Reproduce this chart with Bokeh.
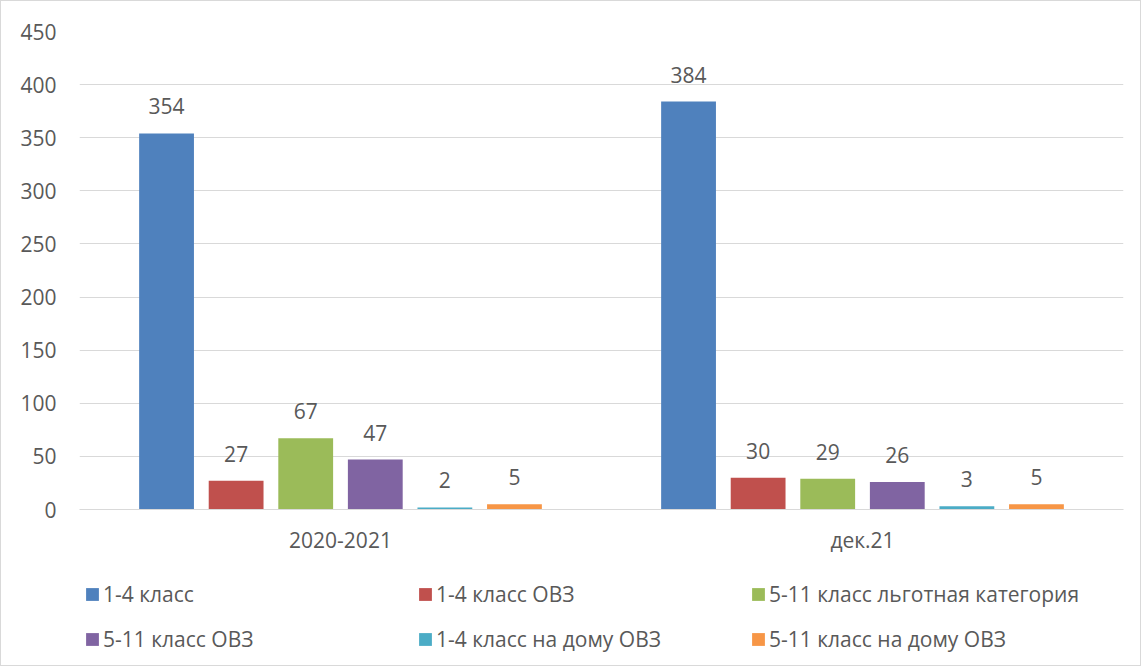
from bokeh.plotting import figure
from bokeh.models import ColumnDataSource, FactorRange, Range1d, Legend, LegendItem, FixedTicker
from bokeh.layouts import column
from bokeh.transform import dodge
from bokeh.core.properties import value
from bokeh.embed import file_html
from bokeh.resources import INLINE

categories = ["2020-2021", "дек.21"]
series_names = ["1-4 класс", "1-4 класс ОВЗ", "5-11 класс льготная категория",
                "5-11 класс ОВЗ", "1-4 класс на дому ОВЗ", "5-11 класс на дому ОВЗ"]
s1 = [354, 384]
s2 = [27, 30]
s3 = [67, 29]
s4 = [47, 26]
s5 = [2, 3]
s6 = [5, 5]
series_values = [s1, s2, s3, s4, s5, s6]
colors = ["#4F81BD", "#C0504D", "#9BBB59", "#8064A2", "#4BACC6", "#F79646"]
y_ticks = [0, 50, 100, 150, 200, 250, 300, 350, 400, 450]

FONT = "Open Sans"
TXT = "#595959"
GRID = "#D9D9D9"

p = figure(width=1139, height=562, x_range=FactorRange(*categories), y_range=Range1d(0, 450),
           output_backend="svg", toolbar_location=None,
           min_border_left=78, min_border_right=17, min_border_top=30, min_border_bottom=54)
p.outline_line_color = None

data = {"cat": categories}
for i, vals in enumerate(series_values):
    data[f"s{i}"] = vals
    data[f"l{i}"] = [str(v) for v in vals]
src = ColumnDataSource(data)

step = 0.1333
width = 0.105
for i in range(6):
    off = (i - 2.5) * step
    p.vbar(x=dodge("cat", off, range=p.x_range), top=f"s{i}", width=width, source=src,
           fill_color=colors[i], line_color=None)
    p.text(x=dodge("cat", off, range=p.x_range), y=f"s{i}", text=f"l{i}", source=src,
           text_align="center", text_baseline="bottom", y_offset=-19,
           text_font=value(FONT), text_font_size="21px", text_color=TXT)

p.xgrid.grid_line_color = None
p.ygrid.grid_line_color = GRID
p.ygrid.ticker = FixedTicker(ticks=y_ticks)

p.yaxis.ticker = FixedTicker(ticks=y_ticks)
p.yaxis.axis_line_color = None
p.yaxis.major_tick_line_color = None
p.yaxis.minor_tick_line_color = None
p.yaxis.major_tick_out = 0
p.yaxis.major_label_standoff = 23
p.yaxis.major_label_text_font = FONT
p.yaxis.major_label_text_font_size = "21px"
p.yaxis.major_label_text_color = TXT

p.xaxis.axis_line_color = GRID
p.xaxis.major_tick_line_color = None
p.xaxis.minor_tick_line_color = None
p.xaxis.major_tick_out = 0
p.xaxis.major_label_standoff = 16
p.xaxis.major_label_text_font = FONT
p.xaxis.major_label_text_font_size = "21px"
p.xaxis.major_label_text_color = TXT

# legend figure (frame aligned with the chart's frame by the column layout)
lf = figure(width=1139, height=102, x_range=Range1d(0, 1), y_range=Range1d(0, 1),
            output_backend="svg", toolbar_location=None,
            x_axis_location=None, y_axis_location=None,
            min_border_left=0, min_border_right=0, min_border_top=0, min_border_bottom=0)
lf.outline_line_color = None
lf.xgrid.grid_line_color = None
lf.ygrid.grid_line_color = None
items = []
for i in range(6):
    r = lf.vbar(x=[0.5], top=[0], bottom=[0], width=0.0, fill_color=colors[i], line_color=None)
    items.append(LegendItem(label=series_names[i], renderers=[r]))
legend = Legend(items=items, ncols=3, orientation="horizontal", location=(5, 4),
                glyph_width=16, glyph_height=16, label_standoff=3, label_width=314,
                label_height=45, spacing=0, padding=0, margin=0,
                label_text_font=FONT, label_text_font_size="21px", label_text_color=TXT,
                border_line_color=None, background_fill_alpha=0)
lf.add_layout(legend, "center")

layout = column(p, lf, spacing=0)
layout.styles = {"border": "1px solid #D9D9D9"}

open("out.html", "w").write(file_html(layout, INLINE))
